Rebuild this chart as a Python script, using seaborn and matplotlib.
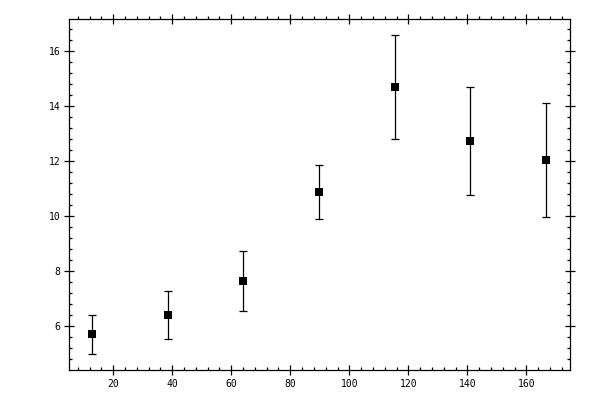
import numpy as np
import pandas as pd
import seaborn as sns
from matplotlib import pyplot as plt
from matplotlib.ticker import MultipleLocator

# Values
x_values = [12.9, 38.6, 64.1, 89.8, 115.6, 141.0, 166.8]
y_values = [5.71, 6.40, 7.64, 10.87, 14.69, 12.73, 12.04]
y_errors = [0.71, 0.88, 1.09, 0.98, 1.89, 1.97, 2.07]

df = pd.DataFrame({'x': x_values, 'y': y_values, 'err': y_errors})

sns.set_style('ticks')
plt.rcParams['font.family'] = ['DejaVu Sans Mono']

fig = plt.figure(figsize=(6, 4), dpi=100)
ax = fig.add_axes([0.1155, 0.075, 0.835, 0.877])

# Error bars first, square markers on top
ax.errorbar(df['x'], df['y'], yerr=df['err'], fmt='none',
            ecolor='black', elinewidth=0.9, capsize=2.6, capthick=0.9, zorder=2)
sns.scatterplot(data=df, x='x', y='y', marker='s', color='black',
                s=32, linewidth=0, ax=ax, zorder=3)

ax.set_xlim(5.1, 174.9)
ax.set_ylim(4.41, 17.16)
ax.set_xlabel('')
ax.set_ylabel('')

ax.xaxis.set_minor_locator(MultipleLocator(4))
ax.yaxis.set_minor_locator(MultipleLocator(0.4))
ax.set_xticks(np.arange(20, 161, 20))
ax.set_yticks(np.arange(6, 17, 2))

for spine in ax.spines.values():
    spine.set_visible(True)
    spine.set_linewidth(0.9)
    spine.set_color('black')

# Bottom/left: minor ticks point inward, top/right: outward (same direction)
ax.tick_params(which='major', direction='inout', length=6.5, width=0.9,
               color='black', labelcolor='black', labelsize=7, pad=3,
               top=True, right=True, labeltop=False, labelright=False)
ax.tick_params(which='minor', length=2.2, width=0.9, color='black',
               top=True, right=True)
ax.tick_params(axis='x', which='minor', bottom=True, direction='in')
ax.tick_params(axis='y', which='minor', left=True, direction='in')

for tick in ax.xaxis.get_minor_ticks():
    tick.tick2line.set_marker(2)  # TICKUP
for tick in ax.yaxis.get_minor_ticks():
    tick.tick2line.set_marker(0)  # TICKRIGHT

fig.savefig('out.png', dpi=100)
